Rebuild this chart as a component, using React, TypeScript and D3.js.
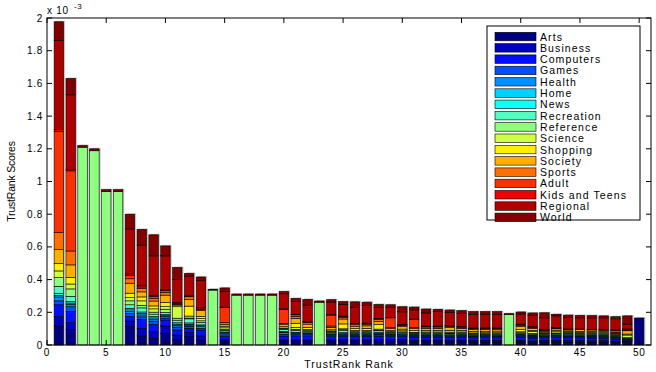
import React from 'react';
import * as d3 from 'd3';

// TrustRank scores of the top 50 sites, split by ODP category (units of 1e-3)
const categories = ['Arts', 'Business', 'Computers', 'Games', 'Health', 'Home', 'News', 'Recreation',
  'Reference', 'Science', 'Shopping', 'Society', 'Sports', 'Adult', 'Kids and Teens', 'Regional', 'World'];

const arts = [.116, .096, 0, 0, 0, 0, .112, .055, .040, .071,
  .031, .051, .031, 0, .020, 0, 0, 0, 0, .020,
  .020, .020, 0, .020, .020, .020, .020, .020, .020, .020,
  .018, .020, .020, .019, .020, .018, .018, .018, 0, .018,
  .015, .018, .018, .016, .016, .016, .016, .015, .014, .165];
const business = [.057, .040, 0, 0, 0, 0, .035, .047, .041, .045,
  .030, .025, .025, 0, .012, 0, 0, 0, 0, .011,
  .011, .011, 0, .011, .012, .011, .011, .012, .012, .012,
  .010, .010, .010, .010, .010, .010, .010, .010, 0, .010,
  .010, .010, .010, .010, .010, .010, .010, .008, .008, 0];
const computers = [.073, .070, 0, 0, 0, 0, .026, .055, .045, .037,
  .031, .026, .036, 0, .020, 0, 0, 0, 0, .024,
  .025, .025, 0, .020, .020, .022, .022, .022, .020, .020,
  .020, .018, .018, .018, .018, .016, .017, .016, 0, .020,
  .018, .016, .018, .018, .018, .017, .016, .012, .006, 0];
const games = [.024, .028, 0, 0, 0, 0, .020, .015, .020, .012,
  .018, .012, .010, 0, .010, 0, 0, 0, 0, .010,
  .008, .008, 0, .006, .008, .006, .006, .008, .006, .006,
  .006, .006, .006, .006, .006, .006, .006, .006, 0, .006,
  .006, .006, .006, .006, .006, .006, .006, .005, .003, 0];
const health = [.024, .015, 0, 0, 0, 0, .012, .012, .012, .010,
  .012, .008, .010, 0, .008, 0, 0, 0, 0, .010,
  .006, .005, 0, .005, .006, .005, .005, .005, .004, .005,
  .004, .004, .004, .004, .004, .004, .004, .004, 0, .004,
  .004, .004, .004, .004, .004, .004, .004, .004, .002, 0];
const home = [.010, .008, 0, 0, 0, 0, .010, .010, .008, .005,
  .006, .005, .005, 0, .005, 0, 0, 0, 0, .004,
  .004, .003, 0, .003, .004, .003, .003, .004, .003, .003,
  .003, .003, .003, .003, .003, .003, .003, .003, 0, .003,
  .003, .003, .003, .003, .003, .003, .003, .003, .002, 0];
const news = [.010, .008, 0, 0, 0, 0, .010, .008, .008, .006,
  .008, .008, .006, 0, .005, 0, 0, 0, 0, .004,
  .004, .003, 0, .004, .006, .003, .003, .006, .003, .003,
  .004, .003, .003, .003, .003, .003, .003, .003, 0, .004,
  .004, .003, .004, .004, .004, .004, .004, .003, .002, 0];
const recreation = [.045, .033, 0, 0, 0, 0, .021, .025, .015, .013,
  .016, .025, .015, 0, .010, 0, 0, 0, 0, .012,
  .012, .008, 0, .008, .012, .007, .007, .010, .006, .007,
  .006, .006, .006, .006, .006, .005, .005, .006, 0, .006,
  .006, .005, .006, .006, .006, .006, .006, .005, .004, 0];
const reference = [.053, .045, 1.210, 1.188, .940, .940, .024, .016, .012, .020,
  .012, .005, .010, .336, .005, .305, .305, .305, .305, .004,
  .006, .005, .262, .004, .005, .005, .005, .004, .003, .004,
  .003, .004, .004, .004, .004, .004, .004, .004, .186, .004,
  .005, .004, .004, .005, .005, .005, .005, .004, .004, 0];
const science = [.041, .030, 0, 0, 0, 0, .020, .027, .020, .016,
  .070, .012, .015, 0, .010, 0, 0, 0, 0, .005,
  .012, .008, 0, .005, .006, .008, .008, .006, .005, .007,
  .004, .006, .006, .006, .006, .005, .005, .005, 0, .006,
  .012, .005, .008, .006, .006, .006, .006, .004, .016, 0];
const shopping = [.045, .041, 0, 0, 0, 0, .027, .024, .018, .025,
  .010, .061, .012, 0, .010, 0, 0, 0, 0, .008,
  .025, .012, 0, .007, .030, .010, .012, .030, .006, .010,
  .012, .010, .010, .011, .010, .010, .009, .010, 0, .014,
  .006, .006, .008, .006, .006, .006, .006, .004, .006, 0];
const society = [.085, .076, 0, 0, 0, 0, .061, .031, .030, .045,
  .005, .041, .035, 0, .012, 0, 0, 0, 0, .012,
  .030, .020, 0, .015, .030, .015, .015, .018, .012, .015,
  .010, .012, .012, .016, .012, .010, .011, .010, 0, .018,
  .012, .006, .010, .008, .012, .009, .008, .005, .020, 0];
const sports = [.104, .085, 0, 0, 0, 0, .027, .020, .015, .016,
  .006, .016, .008, 0, .010, 0, 0, 0, 0, .008,
  .012, .010, 0, .008, .010, .010, .010, .010, .006, .008,
  .006, .008, .008, .008, .006, .006, .006, .006, 0, .008,
  .006, .004, .004, .004, .002, .003, .003, .006, .005, 0];
const adult = [.620, .490, 0, 0, 0, 0, .020, .010, .012, .013,
  .005, .005, .008, 0, .091, 0, 0, 0, 0, .086,
  .010, .004, 0, .067, .006, .005, .005, .005, .060, .005,
  .050, .004, .004, .004, .004, .002, .002, .002, 0, .004,
  .003, .003, .003, .002, 0, .001, .001, .010, .003, 0];
const kids = [.010, .010, 0, 0, 0, 0, .010, .011, .005, .003,
  0, 0, .004, 0, .004, 0, 0, 0, 0, .003,
  .002, .002, 0, .002, .002, .002, .002, .002, .002, .002,
  .002, .002, .002, .002, .002, .002, .001, .001, 0, .002,
  .002, .002, .002, 0, 0, 0, 0, .004, .003, 0];
const regional = [.545, .455, 0, 0, 0, 0, .275, .245, .244, .208,
  .141, .122, .163, 0, .096, 0, 0, 0, 0, .092,
  .080, .100, 0, .078, .072, .097, .107, .068, .063, .076,
  .057, .080, .090, .078, .078, .083, .085, .082, 0, .062,
  .070, .071, .070, .070, .068, .070, .072, .068, .030, 0];
const world = [.115, .100, .010, .012, .010, .010, .090, .096, .129, .061,
  .073, .016, .023, .005, .021, .007, .007, .007, .007, .014,
  .018, .035, .007, .014, .016, .035, .021, .018, .015, .031,
  .017, .024, .012, .016, .018, .017, .015, .018, .006, .013,
  .014, .031, .010, .015, .015, .014, .012, .013, .050, 0];

const seriesValues = [arts, business, computers, games, health, home, news, recreation,
  reference, science, shopping, society, sports, adult, kids, regional, world];
const ranks = d3.range(1, 51);
const xTicks = [0, 5, 10, 15, 20, 25, 30, 35, 40, 45, 50];
const yTicks = [0, 0.2, 0.4, 0.6, 0.8, 1, 1.2, 1.4, 1.6, 1.8, 2];

// matlab jet(64), picked the way bar() scales CData over the colormap
const jetU = (i: number) => (i < 1 || i > 47 ? 0 : i <= 16 ? i / 16 : i <= 31 ? 1 : (48 - i) / 16);
const jetColor = (idx: number) => {
  const k = Math.min(64, idx * 4 + 1);
  const r = k >= 25 ? jetU(k - 24) : 0;
  const g = k >= 9 && k <= 55 ? jetU(k - 8) : 0;
  const b = k <= 39 ? jetU(k + 7) : 0;
  return d3.rgb(r * 255, g * 255, b * 255).formatHex();
};

const W = 656, H = 372;
const m = { left: 47, right: 651, top: 18, bottom: 345 };
const font = '"Liberation Sans", Arial, Helvetica, sans-serif';

export default function App() {
  const x = d3.scaleLinear().domain([0, 51]).range([m.left, m.right]);
  const y = d3.scaleLinear().domain([0, 2]).range([m.bottom, m.top]);
  const color = d3.scaleOrdinal<string, string>().domain(categories).range(categories.map((_, i) => jetColor(i)));

  const table = ranks.map((r, j) => {
    const row: Record<string, number> = { rank: r };
    categories.forEach((c, i) => { row[c] = seriesValues[i][j]; });
    return row;
  });
  const stacked = d3.stack<Record<string, number>>().keys(categories)(table);
  const totals = ranks.map((_, j) => d3.sum(seriesValues, s => s[j]));
  const bw = x(0.8) - x(0);
  const tick = 5;

  return (
    <svg width={W} height={H} style={{ position: 'absolute', left: 0, top: 0, fontFamily: font }}>
      <rect width={W} height={H} fill="#fff" />
      {/* soft shadow each bar gets in the original export */}
      <g fill="#c4c4c4">
        {ranks.map((r, j) => (
          <rect key={r} x={x(r) - bw / 2 + 1.5} y={y(totals[j]) - 1} width={bw} height={y(0) - y(totals[j]) + 1} />
        ))}
      </g>
      {stacked.map(layer => (
        <g key={layer.key} fill={color(layer.key)} stroke="#000" strokeWidth={0.6}>
          {layer.map((d, j) => d[1] - d[0] > 0 ? (
            <rect key={j} x={x(ranks[j]) - bw / 2} y={y(d[1])} width={bw} height={y(d[0]) - y(d[1])} />
          ) : null)}
        </g>
      ))}
      <rect x={m.left} y={m.top} width={m.right - m.left} height={m.bottom - m.top} fill="none" stroke="#000" strokeWidth={1} />
      <g stroke="#000" strokeWidth={1}>
        {xTicks.map(t => (
          <g key={t}>
            <line x1={x(t)} x2={x(t)} y1={m.bottom} y2={m.bottom - tick} />
            <line x1={x(t)} x2={x(t)} y1={m.top} y2={m.top + tick} />
          </g>
        ))}
        {yTicks.map(t => (
          <g key={t}>
            <line x1={m.left} x2={m.left + tick} y1={y(t)} y2={y(t)} />
            <line x1={m.right} x2={m.right - tick} y1={y(t)} y2={y(t)} />
          </g>
        ))}
      </g>
      <g fontSize={10} fill="#000" letterSpacing={0.7}>
        {xTicks.map(t => (
          <text key={t} x={x(t)} y={m.bottom + 11} textAnchor="middle">{t}</text>
        ))}
        {yTicks.map(t => (
          <text key={t} x={m.left - 4} y={y(t) + 3.5} textAnchor="end">{t}</text>
        ))}
        <text x={m.left} y={14}>x 10</text>
        <text x={74} y={9} fontSize={8}>-3</text>
      </g>
      <text x={(m.left + m.right) / 2} y={368} textAnchor="middle" fontSize={10.5} letterSpacing={1}>TrustRank Rank</text>
      <text transform={`translate(15,${(m.top + m.bottom) / 2}) rotate(-90)`} textAnchor="middle" fontSize={10.5} letterSpacing={-0.2}>TrustRank Scores</text>
      <g transform="translate(487,26)">
        <rect width={153} height={194} fill="#fff" stroke="#000" strokeWidth={1} />
        {categories.map((c, i) => (
          <g key={c} transform={`translate(0,${6.3 + i * 11.3})`}>
            <rect x={8} width={41} height={8.5} fill={color(c)} stroke="#000" strokeWidth={0.6} />
            <text x={53} y={8.2} fontSize={10.5} letterSpacing={1.1}>{c}</text>
          </g>
        ))}
      </g>
    </svg>
  );
}
